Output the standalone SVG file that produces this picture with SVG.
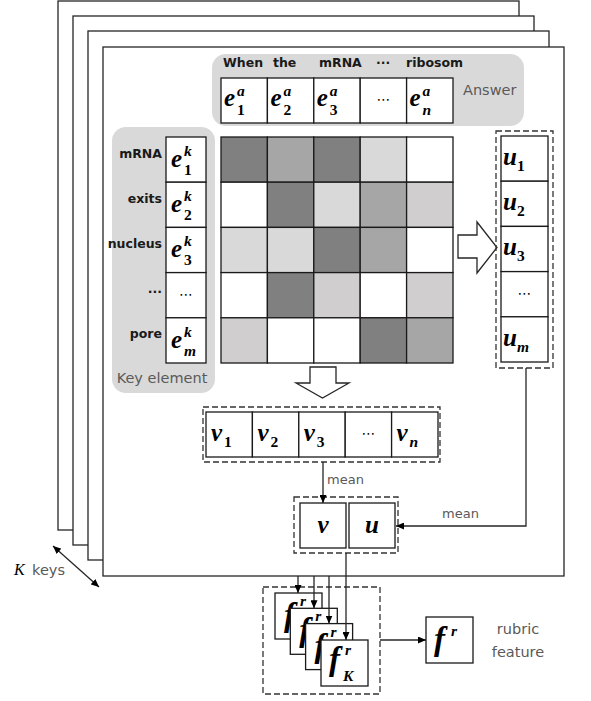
<svg xmlns="http://www.w3.org/2000/svg" width="591" height="701" viewBox="0 0 591 701">
<style>
.page{fill:#fff;stroke:#262626;stroke-width:1.3}
.cell{stroke:#1a1a1a;stroke-width:1.3}
.w{fill:#fff}
.dk{fill:#808080}
.md{fill:#a6a6a6}
.lt{fill:#d9d9d9}
.lp{fill:#d0cece}
.gbox{fill:#d9d9d9}
.dash{fill:none;stroke:#333;stroke-width:1.3;stroke-dasharray:6 3}
.m{font-family:"Liberation Serif",serif;font-weight:bold;font-style:italic;fill:#000}
.n{font-style:normal}
.big{font-size:25px}
.ss{font-size:15.5px}
.ff{font-size:33px}
.bl{font-family:"DejaVu Sans",sans-serif;font-weight:bold;font-size:12.5px;fill:#1a1a1a}
.gt{font-family:"DejaVu Sans",sans-serif;font-size:14.5px;fill:#595959}
.mean{font-family:"DejaVu Sans",sans-serif;font-size:13px;fill:#595959}
.dots{font-family:"DejaVu Sans",sans-serif;font-size:14px;fill:#000}
.ln{fill:none;stroke:#262626;stroke-width:1.3}
.blk{fill:#fff;stroke:#262626;stroke-width:1.3}
</style>
<defs>
<marker id="ah" viewBox="0 0 8 7" refX="8" refY="3.5" markerWidth="8" markerHeight="7" markerUnits="userSpaceOnUse" orient="auto-start-reverse">
<path d="M0,0 L8,3.5 L0,7 z" fill="#000"/>
</marker>
<clipPath id="c1"><polygon points="275,593 322,593 322,608.3 290.3,608.3 290.3,639 275,639"/></clipPath>
<clipPath id="c2"><polygon points="290.3,608.3 337.3,608.3 337.3,623.6 305.6,623.6 305.6,654.3 290.3,654.3"/></clipPath>
<clipPath id="c3"><polygon points="305.6,623.6 352.6,623.6 352.6,640 321,640 321,669.6 305.6,669.6"/></clipPath>
</defs>

<g id="pages">
<rect class="page" x="58" y="1" width="461" height="529"/>
<rect class="page" x="73" y="16" width="461" height="529"/>
<rect class="page" x="88" y="31" width="461" height="529"/>
<rect class="page" x="103" y="47" width="461" height="529"/>
</g>

<g id="answer">
<rect class="gbox" x="212" y="54" width="312" height="72" rx="14"/>
<text class="bl" x="223" y="67">When</text>
<text class="bl" x="273" y="67">the</text>
<text class="bl" x="319" y="67">mRNA</text>
<text class="bl" x="376" y="67">···</text>
<text class="bl" x="406" y="67">ribosom</text>
<text class="gt" x="463" y="95">Answer</text>
<rect class="cell w" x="221" y="78" width="46.4" height="45"/>
<rect class="cell w" x="267.4" y="78" width="46.4" height="45"/>
<rect class="cell w" x="313.8" y="78" width="46.4" height="45"/>
<rect class="cell w" x="360.2" y="78" width="46.4" height="45"/>
<rect class="cell w" x="406.6" y="78" width="46.4" height="45"/>
<text class="m big" x="224" y="106">e</text><text class="m ss" x="237" y="96">a</text><text class="m ss n" x="237" y="115">1</text>
<text class="m big" x="270.4" y="106">e</text><text class="m ss" x="283.4" y="96">a</text><text class="m ss n" x="283.4" y="115">2</text>
<text class="m big" x="316.8" y="106">e</text><text class="m ss" x="329.8" y="96">a</text><text class="m ss n" x="329.8" y="115">3</text>
<text class="dots" x="383.4" y="104" text-anchor="middle">⋯</text>
<text class="m big" x="409.6" y="106">e</text><text class="m ss" x="422.6" y="96">a</text><text class="m ss" x="422.6" y="115">n</text>
</g>

<g id="key">
<rect class="gbox" x="112" y="127" width="103" height="266" rx="14"/>
<text class="bl" x="162" y="158" text-anchor="end">mRNA</text>
<text class="bl" x="162" y="203" text-anchor="end">exits</text>
<text class="bl" x="162" y="248" text-anchor="end">nucleus</text>
<text class="bl" x="162" y="293" text-anchor="end">...</text>
<text class="bl" x="162" y="338" text-anchor="end">pore</text>
<text class="gt" x="162" y="383" text-anchor="middle">Key element</text>
<rect class="cell w" x="166" y="137" width="40" height="45.2"/>
<rect class="cell w" x="166" y="182.2" width="40" height="45.2"/>
<rect class="cell w" x="166" y="227.4" width="40" height="45.2"/>
<rect class="cell w" x="166" y="272.6" width="40" height="45.2"/>
<rect class="cell w" x="166" y="317.8" width="40" height="45.2"/>
<text class="m big" x="171" y="167">e</text><text class="m ss" x="184" y="156">k</text><text class="m ss n" x="184" y="175">1</text>
<text class="m big" x="171" y="212.2">e</text><text class="m ss" x="184" y="201.2">k</text><text class="m ss n" x="184" y="220.2">2</text>
<text class="m big" x="171" y="257.4">e</text><text class="m ss" x="184" y="246.4">k</text><text class="m ss n" x="184" y="265.4">3</text>
<text class="dots" x="186" y="299" text-anchor="middle">⋯</text>
<text class="m big" x="171" y="347.8">e</text><text class="m ss" x="184" y="336.8">k</text><text class="m ss" x="184" y="355.8">m</text>
</g>

<g id="matrix">
<rect class="cell dk" x="221" y="137" width="46.4" height="45.2"/>
<rect class="cell md" x="267.4" y="137" width="46.4" height="45.2"/>
<rect class="cell dk" x="313.8" y="137" width="46.4" height="45.2"/>
<rect class="cell lt" x="360.2" y="137" width="46.4" height="45.2"/>
<rect class="cell w" x="406.6" y="137" width="46.4" height="45.2"/>
<rect class="cell w" x="221" y="182.2" width="46.4" height="45.2"/>
<rect class="cell dk" x="267.4" y="182.2" width="46.4" height="45.2"/>
<rect class="cell lt" x="313.8" y="182.2" width="46.4" height="45.2"/>
<rect class="cell md" x="360.2" y="182.2" width="46.4" height="45.2"/>
<rect class="cell lp" x="406.6" y="182.2" width="46.4" height="45.2"/>
<rect class="cell lt" x="221" y="227.4" width="46.4" height="45.2"/>
<rect class="cell lt" x="267.4" y="227.4" width="46.4" height="45.2"/>
<rect class="cell dk" x="313.8" y="227.4" width="46.4" height="45.2"/>
<rect class="cell md" x="360.2" y="227.4" width="46.4" height="45.2"/>
<rect class="cell w" x="406.6" y="227.4" width="46.4" height="45.2"/>
<rect class="cell w" x="221" y="272.6" width="46.4" height="45.2"/>
<rect class="cell dk" x="267.4" y="272.6" width="46.4" height="45.2"/>
<rect class="cell lp" x="313.8" y="272.6" width="46.4" height="45.2"/>
<rect class="cell w" x="360.2" y="272.6" width="46.4" height="45.2"/>
<rect class="cell lp" x="406.6" y="272.6" width="46.4" height="45.2"/>
<rect class="cell lp" x="221" y="317.8" width="46.4" height="45.2"/>
<rect class="cell w" x="267.4" y="317.8" width="46.4" height="45.2"/>
<rect class="cell w" x="313.8" y="317.8" width="46.4" height="45.2"/>
<rect class="cell dk" x="360.2" y="317.8" width="46.4" height="45.2"/>
<rect class="cell md" x="406.6" y="317.8" width="46.4" height="45.2"/>
</g>

<g id="arrow-right">
<polygon class="blk" points="458,235 477,235 477,222 497,247.5 477,273 477,258 458,258"/>
</g>
<g id="arrow-down">
<polygon class="blk" points="310,367 336,367 336,383 349,383 322.5,398 296,383 310,383"/>
</g>

<g id="u-column">
<rect class="dash" x="496" y="131" width="57" height="237"/>
<rect class="cell w" x="501" y="136" width="47" height="45.2"/>
<rect class="cell w" x="501" y="181.2" width="47" height="45.2"/>
<rect class="cell w" x="501" y="226.4" width="47" height="45.2"/>
<rect class="cell w" x="501" y="271.6" width="47" height="45.2"/>
<rect class="cell w" x="501" y="316.8" width="47" height="45.2"/>
<text class="m big" x="503" y="165">u</text><text class="m ss n" x="517" y="171">1</text>
<text class="m big" x="503" y="210.2">u</text><text class="m ss n" x="517" y="216.2">2</text>
<text class="m big" x="503" y="255.4">u</text><text class="m ss n" x="517" y="261.4">3</text>
<text class="dots" x="524.5" y="298" text-anchor="middle">⋯</text>
<text class="m big" x="503" y="345.8">u</text><text class="m ss" x="517" y="351.8">m</text>
</g>

<g id="v-row">
<rect class="dash" x="203" y="407" width="237" height="55"/>
<rect class="cell w" x="206" y="412" width="46.4" height="45"/>
<rect class="cell w" x="252.4" y="412" width="46.4" height="45"/>
<rect class="cell w" x="298.8" y="412" width="46.4" height="45"/>
<rect class="cell w" x="345.2" y="412" width="46.4" height="45"/>
<rect class="cell w" x="391.6" y="412" width="46.4" height="45"/>
<text class="m big" x="211" y="441">v</text><text class="m ss n" x="224" y="447">1</text>
<text class="m big" x="257.4" y="441">v</text><text class="m ss n" x="270.4" y="447">2</text>
<text class="m big" x="303.8" y="441">v</text><text class="m ss n" x="316.8" y="447">3</text>
<text class="dots" x="368.4" y="438" text-anchor="middle">⋯</text>
<text class="m big" x="396.6" y="441">v</text><text class="m ss" x="409.6" y="447">n</text>
</g>

<g id="vu">
<rect class="dash" x="294" y="497" width="104" height="56"/>
<rect class="cell w" x="300" y="503" width="46" height="45"/>
<rect class="cell w" x="349" y="503" width="46" height="45"/>
<text class="m big" x="323" y="533" text-anchor="middle">v</text>
<text class="m big" x="372" y="533" text-anchor="middle">u</text>
</g>

<g id="f-stack">
<rect class="dash" x="263" y="587" width="117" height="107"/>
<rect class="cell w" x="275" y="593" width="47" height="46"/>
<g clip-path="url(#c1)"><text class="m ff" x="284" y="626">f</text><text class="m ss" x="300" y="606">r</text></g>
<rect class="cell w" x="290.3" y="608.3" width="47" height="46"/>
<g clip-path="url(#c2)"><text class="m ff" x="299.3" y="641.3">f</text><text class="m ss" x="315.3" y="621.3">r</text></g>
<rect class="cell w" x="305.6" y="623.6" width="47" height="46"/>
<g clip-path="url(#c3)"><text class="m ff" x="314.6" y="656.6">f</text><text class="m ss" x="330.6" y="636.6">r</text></g>
<rect class="cell w" x="321" y="640" width="47" height="46"/>
<text class="m ff" x="329" y="670">f</text><text class="m ss" x="345" y="655">r</text><text class="m ss" x="343" y="681">K</text>
</g>

<g id="fr">
<rect class="cell w" x="426" y="617" width="47" height="46"/>
<text class="m ff" x="434" y="650">f</text><text class="m ss" x="451" y="636">r</text>
<text class="gt" font-size="16" x="518" y="634" text-anchor="middle">rubric</text>
<text class="gt" font-size="16" x="518" y="657" text-anchor="middle">feature</text>
</g>

<g id="kkeys">
<text font-family="Liberation Serif,serif" font-style="italic" font-size="16" x="14" y="575" fill="#000">K</text>
<text class="gt" x="32" y="575">keys</text>
</g>

<g id="connectors">
<path class="ln" d="M526,368 V526 H396" marker-end="url(#ah)"/>
<text class="mean" x="442" y="518">mean</text>
<path class="ln" d="M323,462 V503" marker-end="url(#ah)"/>
<text class="mean" x="327" y="484">mean</text>
<path class="ln" d="M346,553 V640" marker-end="url(#ah)"/>
<path class="ln" d="M298,576 V593" marker-end="url(#ah)"/>
<path class="ln" d="M314,576 V608.3" marker-end="url(#ah)"/>
<path class="ln" d="M329,576 V623.6" marker-end="url(#ah)"/>
<path class="ln" d="M380,640 H426" marker-end="url(#ah)"/>
<path class="ln" d="M53,546 L99,587" marker-start="url(#ah)" marker-end="url(#ah)"/>
</g>
</svg>
